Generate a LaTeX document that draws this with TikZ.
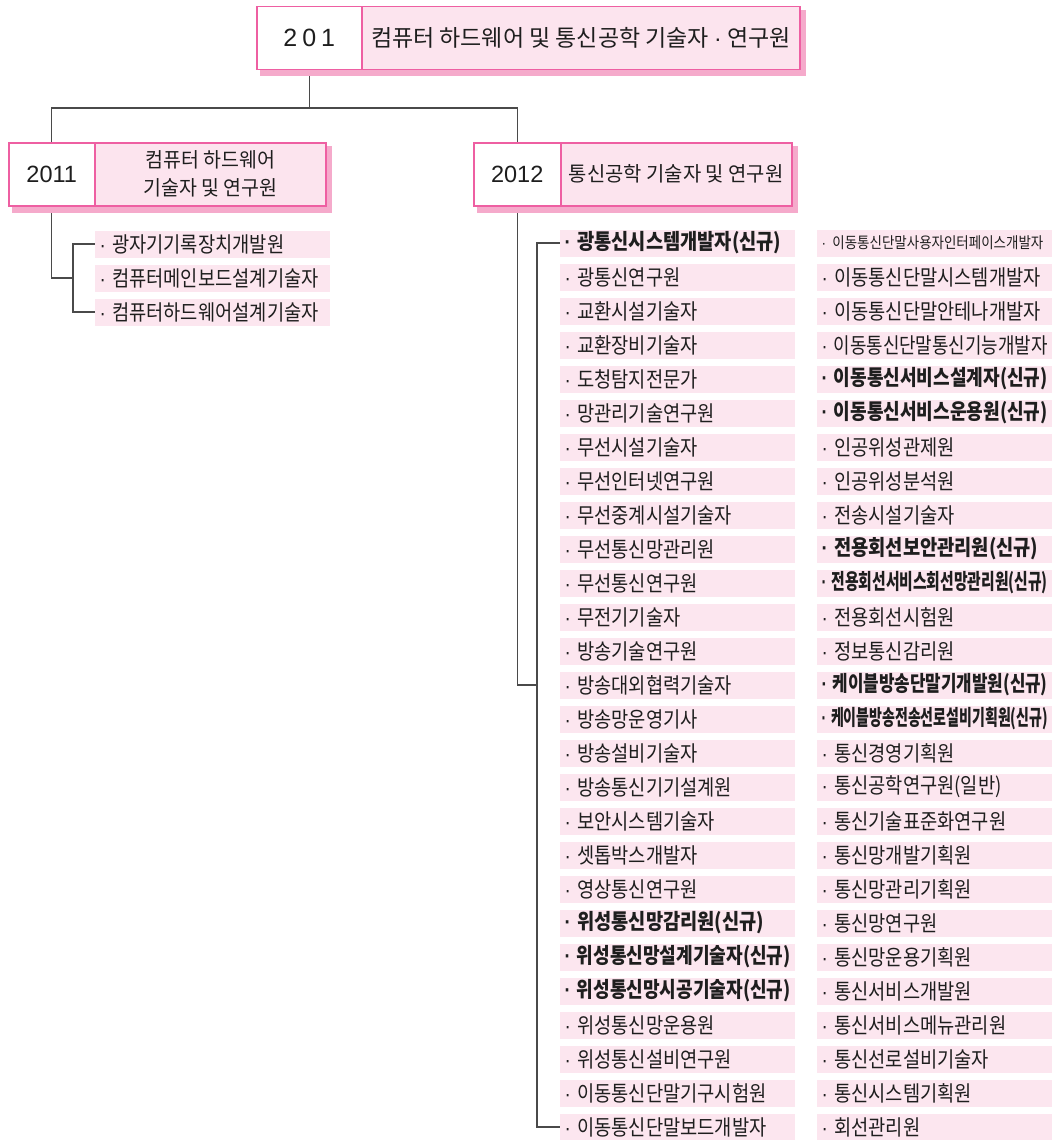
\documentclass[tikz,border=0pt]{standalone}
\usepackage{fontspec}
\usepackage{graphicx}
\setmainfont{Noto Sans CJK KR}
\newfontfamily\numfont{Liberation Sans}
\usetikzlibrary{backgrounds}
\definecolor{pinkline}{HTML}{EE5FA2}
\definecolor{pinkfill}{HTML}{FCE4EE}
\definecolor{pinkshadow}{HTML}{F5AACB}
\definecolor{itembg}{HTML}{FCE6EF}
\definecolor{linecol}{HTML}{4A4A4A}
\definecolor{txt}{HTML}{1E1E1E}
\newsavebox\fitbox
% scale text horizontally by #2, then squeeze to at most width #1
\newcommand\fitto[3]{\sbox\fitbox{\scalebox{#2}[1]{#3}}\ifdim\wd\fitbox>#1\relax\resizebox{#1}{\height}{\usebox\fitbox}\else\usebox\fitbox\fi}
\newcommand\dt{{\numfont ·}\ }
\tikzset{
  numcell/.style={draw=pinkline, line width=1.5pt, fill=white, minimum height=63pt, inner sep=0pt, anchor=north west, font=\numfont\fontsize{23.5}{28}\selectfont, text=txt},
  titlecell/.style={draw=pinkline, line width=1.5pt, fill=pinkfill, minimum height=63pt, inner sep=0pt, anchor=north west, align=center, text=txt},
  itembox/.style={fill=itembg, minimum height=27pt, text width=226pt, inner xsep=4.5pt, inner ysep=0pt, align=left, anchor=west, font=\fontsize{21.5}{24}\selectfont, text=txt},
  connector/.style={draw=linecol, line width=1.3pt},
  shadowfill/.style={fill=pinkshadow}
}
\begin{document}
\begin{tikzpicture}[x=1pt, y=-1pt]
\useasboundingbox (0,0) rectangle (1057,1140);
% header boxes
\node[numcell, minimum width=105pt, font=\numfont\fontsize{25}{28}\selectfont] (n201) at (256,6) {2\hspace{5pt}0\hspace{5pt}1};
\node[titlecell, minimum width=438pt, font=\fontsize{23}{27}\selectfont] (t201) at (361,6) {\fitto{422pt}{1}{컴퓨터 하드웨어 및 통신공학 기술자 {\numfont ·} 연구원}};
\node[numcell, minimum width=86pt] (n2011) at (8,142) {2011};
\node[titlecell, minimum width=231pt, font=\fontsize{20.5}{28}\selectfont] (t2011) at (94,142) {\fitto{220pt}{0.95}{컴퓨터 하드웨어}\\\fitto{220pt}{0.95}{기술자 및 연구원}};
\node[numcell, minimum width=87pt] (n2012) at (473,142) {2012};
\node[titlecell, minimum width=231pt, font=\fontsize{20.5}{28}\selectfont] (t2012) at (560,142) {\fitto{220pt}{0.97}{통신공학 기술자 및 연구원}};
% left items
\foreach \t [count=\i] in {{\dt 광자기기록장치개발원},{\dt 컴퓨터메인보드설계기술자},{\dt 컴퓨터하드웨어설계기술자}}
  \node[itembox] (a\i) at (95,{244+34*(\i-1)}) {\fitto{226pt}{0.87}{\t}};
% right column 1
\foreach \t [count=\i] in {
  {\bfseries\dt 광통신시스템개발자(신규)},{\dt 광통신연구원},{\dt 교환시설기술자},{\dt 교환장비기술자},
  {\dt 도청탐지전문가},{\dt 망관리기술연구원},{\dt 무선시설기술자},{\dt 무선인터넷연구원},
  {\dt 무선중계시설기술자},{\dt 무선통신망관리원},{\dt 무선통신연구원},{\dt 무전기기술자},
  {\dt 방송기술연구원},{\dt 방송대외협력기술자},{\dt 방송망운영기사},{\dt 방송설비기술자},
  {\dt 방송통신기기설계원},{\dt 보안시스템기술자},{\dt 셋톱박스개발자},{\dt 영상통신연구원},
  {\bfseries\dt 위성통신망감리원(신규)},{\bfseries\dt 위성통신망설계기술자(신규)},{\bfseries\dt 위성통신망시공기술자(신규)},
  {\dt 위성통신망운용원},{\dt 위성통신설비연구원},{\dt 이동통신단말기구시험원},{\dt 이동통신단말보드개발자}}
  \node[itembox] (b\i) at (560,{243+34*(\i-1)}) {\fitto{226pt}{0.87}{\t}};
% right column 2
\foreach \t [count=\i] in {
  {\fontsize{15.5}{17}\selectfont\dt 이동통신단말사용자인터페이스개발자},{\dt 이동통신단말시스템개발자},{\dt 이동통신단말안테나개발자},{\dt 이동통신단말통신기능개발자},
  {\bfseries\dt 이동통신서비스설계자(신규)},{\bfseries\dt 이동통신서비스운용원(신규)},{\dt 인공위성관제원},{\dt 인공위성분석원},
  {\dt 전송시설기술자},{\bfseries\dt 전용회선보안관리원(신규)},{\bfseries\dt 전용회선서비스회선망관리원(신규)},{\dt 전용회선시험원},
  {\dt 정보통신감리원},{\bfseries\dt 케이블방송단말기개발원(신규)},{\bfseries\dt 케이블방송전송선로설비기획원(신규)},{\dt 통신경영기획원},
  {\dt 통신공학연구원(일반)},{\dt 통신기술표준화연구원},{\dt 통신망개발기획원},{\dt 통신망관리기획원},
  {\dt 통신망연구원},{\dt 통신망운용기획원},{\dt 통신서비스개발원},{\dt 통신서비스메뉴관리원},
  {\dt 통신선로설비기술자},{\dt 통신시스템기획원},{\dt 회선관리원}}
  \node[itembox] (c\i) at (817,{243+34*(\i-1)}) {\fitto{226pt}{0.87}{\t}};
% junction coordinates
\coordinate (j0) at (n201.south |- 0,108);
\coordinate (bl) at (73,278);
\coordinate (br) at (537,685);
\begin{scope}[on background layer]
  \draw[connector] (n201.south) -- (j0);
  \draw[connector] (n2011.north) |- (j0) -| (n2012.north);
  \draw[connector] (n2011.south) |- (bl);
  \draw[connector] (a1.west) -| (bl) |- (a3.west);
  \draw[connector] (n2012.south) |- (br);
  \draw[connector] (b1.west) -| (br) |- (b27.west);
  \fill[shadowfill] ([shift={(4pt,-4pt)}]n201.north west) rectangle ([shift={(5pt,-5pt)}]t201.south east);
  \fill[shadowfill] ([shift={(4pt,-4pt)}]n2011.north west) rectangle ([shift={(5pt,-6pt)}]t2011.south east);
  \fill[shadowfill] ([shift={(4pt,-4pt)}]n2012.north west) rectangle ([shift={(5pt,-6pt)}]t2012.south east);
\end{scope}
\end{tikzpicture}
\end{document}
